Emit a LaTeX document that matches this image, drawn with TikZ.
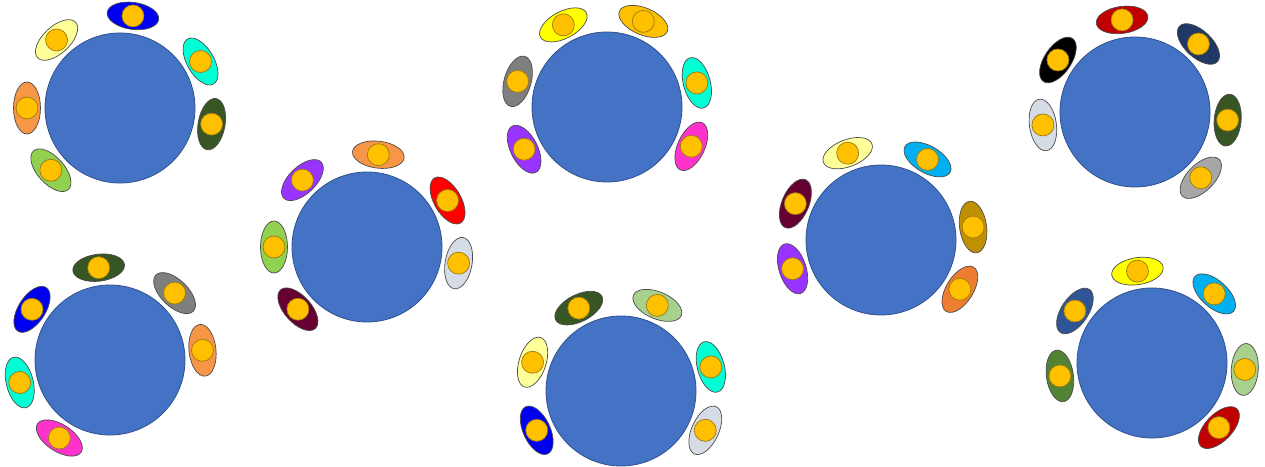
\documentclass[tikz,border=0pt]{standalone}
\usepackage{tikz}
\usetikzlibrary{shapes.geometric,calc}
\definecolor{tableBlue}{HTML}{4472C4}
\definecolor{tableEdge}{HTML}{2F528F}
\definecolor{seatGold}{HTML}{FFC000}
\definecolor{seatEdge}{HTML}{9C7A10}
\definecolor{chairBlue}{HTML}{0000F0}
\definecolor{chairPaleYellow}{HTML}{FFFF99}
\definecolor{chairYellow}{HTML}{FFFF00}
\definecolor{chairOrange}{HTML}{F79646}
\definecolor{chairDarkOrange}{HTML}{ED7D31}
\definecolor{chairLime}{HTML}{92D050}
\definecolor{chairSage}{HTML}{A9D18E}
\definecolor{chairDarkGreen}{HTML}{375623}
\definecolor{chairGreen}{HTML}{548235}
\definecolor{chairTurquoise}{HTML}{00FFD5}
\definecolor{chairPurple}{HTML}{9933FF}
\definecolor{chairMaroon}{HTML}{660033}
\definecolor{chairSilver}{HTML}{D6DCE5}
\definecolor{chairRed}{HTML}{FF0000}
\definecolor{chairDarkRed}{HTML}{C00000}
\definecolor{chairGold}{HTML}{FFC000}
\definecolor{chairGray}{HTML}{7F7F7F}
\definecolor{chairLightGray}{HTML}{A6A6A6}
\definecolor{chairMagenta}{HTML}{FF33CC}
\definecolor{chairSky}{HTML}{00B0F0}
\definecolor{chairOlive}{HTML}{BF9000}
\definecolor{chairNavy}{HTML}{203864}
\definecolor{chairMidBlue}{HTML}{2F5597}
\definecolor{chairBlack}{HTML}{000000}

\begin{document}
\begin{tikzpicture}[
    x=1pt, y=1pt,
    tableNode/.style={circle, draw=tableEdge, fill=tableBlue, line width=0.8pt, inner sep=0pt, minimum size=150pt},
    chairNode/.style={ellipse, draw=black!70, line width=0.7pt, inner sep=0pt, minimum width=52pt, minimum height=27pt},
    seatNode/.style={circle, draw=seatEdge, fill=seatGold, line width=0.7pt, inner sep=0pt, minimum size=22pt}
]
\useasboundingbox (0,0) rectangle (1265,466);

% Tables
\node (t1) [tableNode] at (120,358) {};
\node (t2) [tableNode] at (367,219) {};
\node (t3) [tableNode] at (607,359) {};
\node (t4) [tableNode] at (881,226) {};
\node (t5) [tableNode] at (1135,354) {};
\node (t6) [tableNode] at (110,106) {};
\node (t7) [tableNode] at (621,75) {};
\node (t8) [tableNode] at (1152,103) {};

% Chairs
\foreach \tbl/\chairs in {
    t1/{82/chairBlue, 133/chairPaleYellow, 180/chairOrange, 222/chairLime, 350/chairDarkGreen, 30/chairTurquoise},
    t2/{83/chairOrange, 134/chairPurple, 180/chairLime, 222/chairMaroon, 350/chairSilver, 30/chairRed},
    t3/{118/chairYellow, 67/chairGold, 164/chairGray, 207/chairPurple, 15/chairTurquoise, 335/chairMagenta},
    t4/{111/chairPaleYellow, 60/chairSky, 157/chairMaroon, 198/chairPurple, 8/chairOlive, 328/chairDarkOrange},
    t5/{98/chairDarkRed, 47/chairNavy, 146/chairBlack, 188/chairSilver, 355/chairDarkGreen, 315/chairLightGray},
    t6/{97/chairDarkGreen, 46/chairGray, 147/chairBlue, 194/chairTurquoise, 6/chairOrange, 237/chairMagenta},
    t7/{117/chairDarkGreen, 67/chairSage, 162/chairPaleYellow, 205/chairBlue, 15/chairTurquoise, 335/chairSilver},
    t8/{99/chairYellow, 48/chairSky, 146/chairMidBlue, 188/chairGreen, 356/chairSage, 316/chairDarkRed}}
{
    \foreach \ang/\col [count=\i] in \chairs {
        \node (\tbl c\i) [chairNode, fill=\col, rotate=\ang+90] at ($(\tbl)+(\ang:93)$) {};
        \node (\tbl s\i) [seatNode] at (\tbl c\i) {};
    }
}

\end{tikzpicture}
\end{document}
